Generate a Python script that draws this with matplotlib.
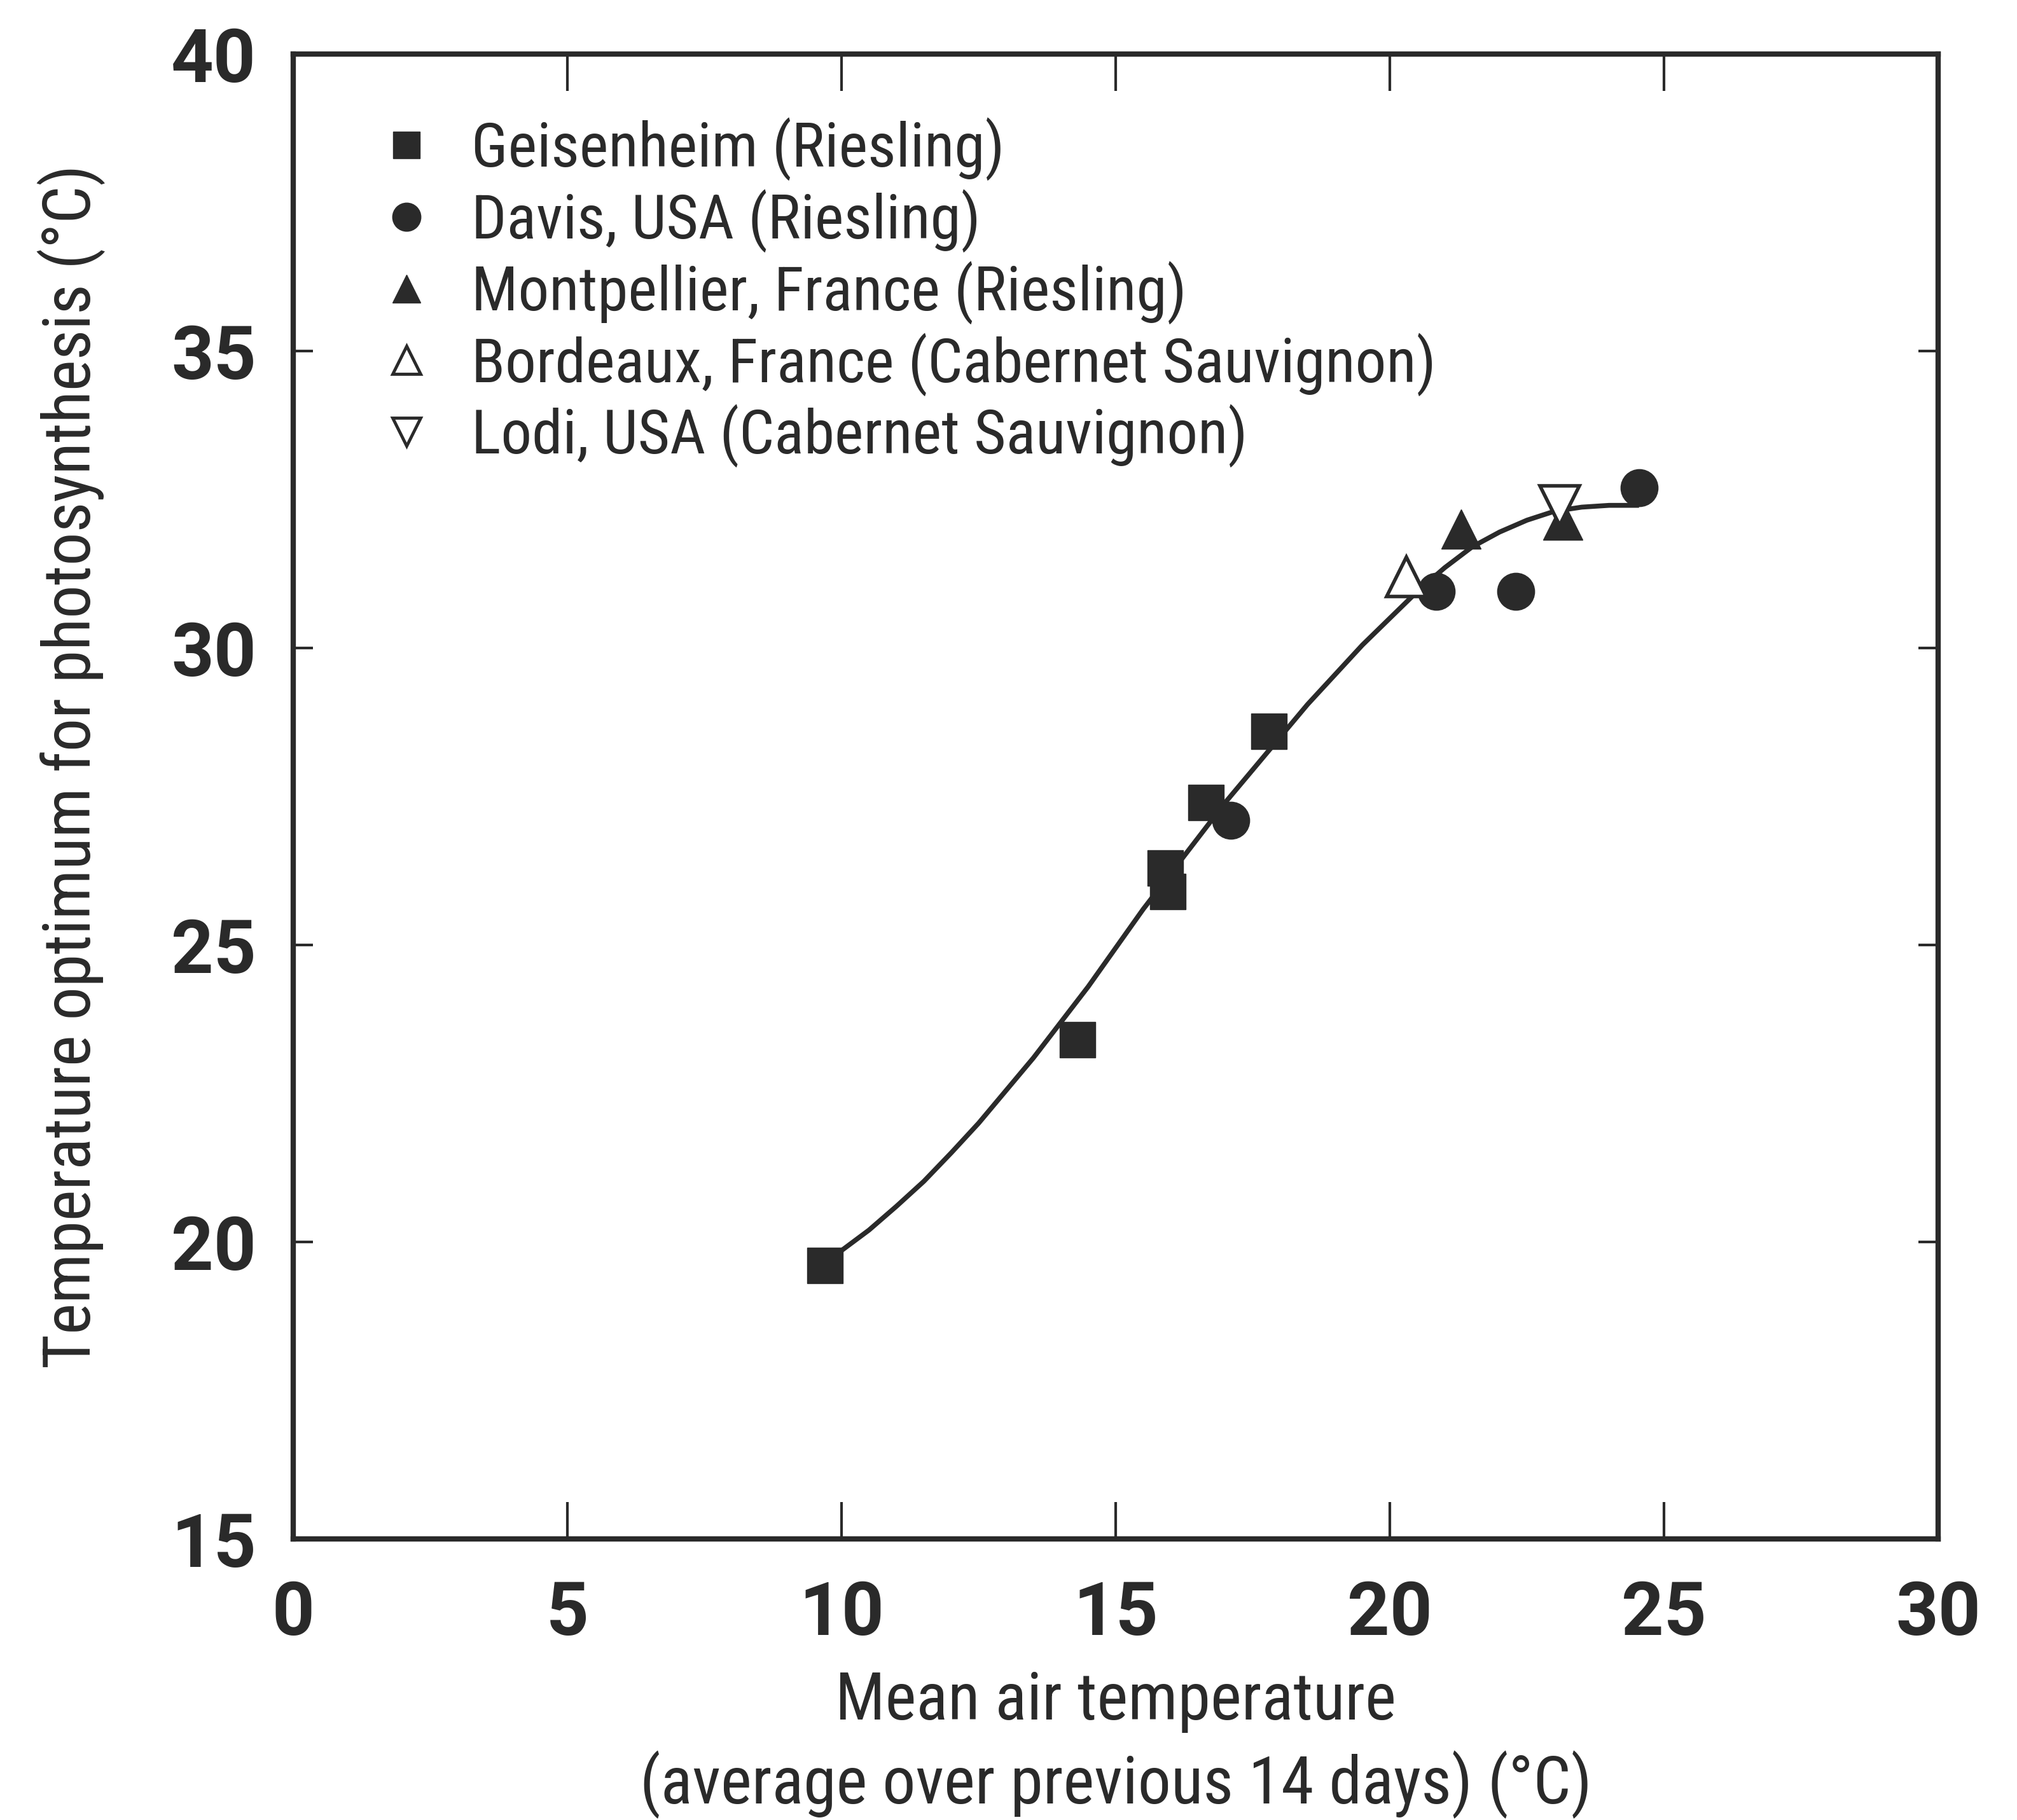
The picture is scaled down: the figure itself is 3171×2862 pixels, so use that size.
import matplotlib
matplotlib.use("Agg")
from matplotlib import pyplot as plt
from matplotlib.lines import Line2D

# values
geis_x = [9.7, 14.3, 15.9, 15.95, 16.65, 17.8]
geis_y = [19.6, 23.4, 26.3, 25.9, 27.4, 28.6]
davis_x = [17.1, 20.85, 22.3, 24.55]
davis_y = [27.1, 30.95, 30.95, 32.7]
montp_x = [21.3, 23.15]
montp_y = [32.0, 32.15]
bord_x = [20.3]
bord_y = [31.2]
lodi_x = [23.1]
lodi_y = [32.4]

curve_x = [9.7, 10.5, 11, 11.5, 12, 12.5, 13, 13.5, 14, 14.5, 15, 15.5, 16, 16.5, 17, 17.5,
           18, 18.5, 19, 19.5, 20, 20.5, 21, 21.5, 22, 22.5, 23, 23.5, 24, 24.5]
curve_y = [19.65, 20.2, 20.6, 21.02, 21.5, 22.0, 22.55, 23.1, 23.7, 24.3, 24.95, 25.6, 26.2,
           26.8, 27.4, 27.95, 28.5, 29.05, 29.55, 30.05, 30.5, 30.95, 31.35, 31.7, 31.95,
           32.15, 32.3, 32.37, 32.4, 32.4]

labels = ['Geisenheim (Riesling)', 'Davis, USA (Riesling)', 'Montpellier, France (Riesling)',
          'Bordeaux, France (Cabernet Sauvignon)', 'Lodi, USA (Cabernet Sauvignon)']
xticks = [0, 5, 10, 15, 20, 25, 30]
yticks = [15, 20, 25, 30, 35, 40]

ink = '#2a2a2a'
narrow = ['Roboto Condensed', 'Archivo Narrow', 'PT Sans Narrow', 'DejaVu Sans']
plt.rcParams['font.family'] = narrow

fig = plt.figure(figsize=(31.71, 28.62), dpi=100)
ax = fig.add_axes([0.1454, 0.1544, 0.8155, 0.816])

ax.plot(curve_x, curve_y, color=ink, lw=5.5, zorder=2)
ax.plot(geis_x, geis_y, 's', color=ink, ms=40, zorder=3)
ax.plot(davis_x, davis_y, 'o', color=ink, ms=42, zorder=3)
ax.plot(montp_x, montp_y, '^', color=ink, ms=44, zorder=3)
ax.plot(bord_x, bord_y, '^', mfc='white', mec=ink, mew=4, ms=44, zorder=4)
ax.plot(lodi_x, lodi_y, 'v', mfc='white', mec=ink, mew=4, ms=44, zorder=4)

ax.set_xlim(0, 30)
ax.set_ylim(15, 40)
ax.set_xticks(xticks)
ax.set_yticks(yticks)
for s in ax.spines.values():
    s.set_linewidth(6)
    s.set_color(ink)

ax.tick_params(axis='both', direction='in', color=ink, width=3,
               top=True, right=True, labelsize=84, labelcolor=ink)
ax.tick_params(axis='x', length=42, pad=45)
ax.tick_params(axis='y', length=22, pad=42)
for lab in ax.get_xticklabels() + ax.get_yticklabels():
    lab.set_fontfamily(['Roboto', 'DejaVu Sans'])
    lab.set_fontweight('bold')

ax.set_xlabel('Mean air temperature\n(average over previous 14 days) (°C)',
              fontsize=75, color=ink, linespacing=1.33)
ax.xaxis.set_label_coords(0.5, -0.088)
ax.set_ylabel('Temperature optimum for photosynthesis (°C)',
              fontsize=75, color=ink)
ax.yaxis.set_label_coords(-0.114, 0.52)

handles = [
    Line2D([], [], ls='none', marker='s', color=ink, ms=30),
    Line2D([], [], ls='none', marker='o', color=ink, ms=32),
    Line2D([], [], ls='none', marker='^', color=ink, ms=32),
    Line2D([], [], ls='none', marker='^', mfc='white', mec=ink, mew=3.5, ms=32),
    Line2D([], [], ls='none', marker='v', mfc='white', mec=ink, mew=3.5, ms=32),
]
leg = ax.legend(handles, labels, loc='upper left', bbox_to_anchor=(0.035, 0.974),
                frameon=False, fontsize=70, labelspacing=0.135, handlelength=1.0,
                handletextpad=0.55, borderaxespad=0)
for t in leg.get_texts():
    t.set_color(ink)

fig.savefig('out.png', dpi=100)
